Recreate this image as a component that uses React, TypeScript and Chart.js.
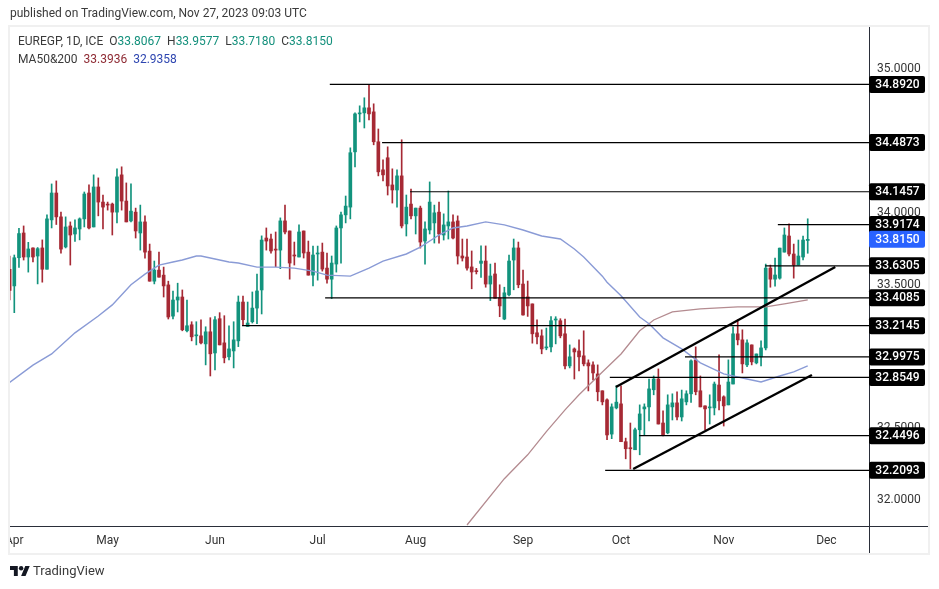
import React, { useEffect, useRef } from "react";
import { Chart, registerables } from "chart.js";

Chart.register(...registerables);

const FONT = 'Roboto, sans-serif';
const UP = "#12937d";
const DOWN = "#a62934";

// first candle sits one session before Apr 3
const firstIndex = -1;

const opens = [33.607,33.491,33.687,33.859,33.692,33.755,33.699,33.755,33.607,33.950,34.137,33.971,33.762,33.908,33.852,33.887,33.957,34.137,33.901,34.179,34.074,34.060,34.060,34.004,34.263,34.081,33.943,34.004,33.859,33.936,33.733,33.524,33.601,33.566,33.498,33.281,33.393,33.414,33.179,33.221,33.144,33.144,33.088,33.172,33.025,33.263,33.095,32.998,33.039,33.109,33.379,33.209,33.242,33.337,33.463,33.824,33.817,33.747,33.740,33.943,33.873,33.706,33.692,33.873,33.726,33.566,33.713,33.726,33.615,33.538,33.643,33.894,33.985,34.039,34.423,34.687,34.694,34.729,34.701,34.493,34.298,34.382,34.193,34.158,34.256,33.922,34.060,33.978,34.032,33.803,33.880,33.929,34.004,33.845,33.908,33.936,33.943,33.699,33.692,33.623,33.595,33.648,33.664,33.504,33.574,33.408,33.261,33.429,33.671,33.755,33.504,33.415,33.366,33.165,33.144,33.060,33.067,33.254,33.249,33.158,32.935,33.053,33.039,33.005,32.956,32.942,32.879,32.762,32.699,32.461,32.643,32.671,32.408,32.366,32.352,32.491,32.636,32.650,32.769,32.844,32.538,32.470,32.650,32.678,32.580,32.685,32.741,32.977,32.762,32.657,32.643,32.643,32.802,32.720,32.664,32.809,33.158,33.116,32.942,33.081,32.956,32.998,33.060,33.615,33.538,33.545,33.726,33.838,33.713,33.636,33.692,33.8067];
const highs = [33.699,33.706,33.892,33.908,33.794,33.756,33.758,33.811,33.985,34.200,34.221,34.004,33.971,33.936,33.950,33.964,34.144,34.193,34.263,34.242,34.123,34.074,34.067,34.305,34.319,34.207,34.200,34.032,34.053,33.978,33.782,33.664,33.726,33.622,33.524,33.456,33.510,33.463,33.393,33.242,33.242,33.256,33.207,33.270,33.277,33.305,33.284,33.214,33.242,33.421,33.421,33.379,33.449,33.573,33.839,33.894,33.852,33.866,33.964,34.053,33.873,33.796,33.915,33.873,33.803,33.768,33.768,33.789,33.720,33.699,33.908,34.004,34.116,34.451,34.694,34.743,34.799,34.893,34.757,34.582,34.368,34.458,34.305,34.298,34.507,34.123,34.165,34.032,34.046,33.936,34.214,34.053,34.074,33.992,34.151,33.985,33.978,33.817,33.817,33.734,33.613,33.769,33.769,33.643,33.650,33.499,33.482,33.706,33.817,33.796,33.602,33.525,33.366,33.256,33.186,33.198,33.277,33.277,33.263,33.261,33.081,33.060,33.116,33.179,32.977,32.963,32.942,32.762,32.706,32.671,32.797,32.797,32.433,32.538,32.503,32.664,32.671,32.844,32.865,32.914,32.622,32.734,32.741,32.755,32.767,32.762,32.977,33.067,32.865,32.657,32.734,32.823,33.012,32.727,32.977,33.207,33.256,33.186,33.116,33.081,33.018,33.109,33.643,33.636,33.685,33.754,33.894,33.922,33.782,33.810,33.838,33.9577];
const lows = [33.393,33.305,33.619,33.671,33.587,33.657,33.505,33.517,33.607,33.894,33.918,33.719,33.755,33.636,33.801,33.811,33.901,33.887,33.901,33.978,33.887,34.018,33.845,33.929,34.018,33.936,33.936,33.824,33.740,33.684,33.524,33.505,33.552,33.414,33.261,33.261,33.310,33.179,33.172,33.109,33.081,33.088,32.942,32.865,32.907,33.081,32.956,32.977,32.921,33.069,33.221,33.209,33.233,33.228,33.296,33.740,33.718,33.625,33.611,33.852,33.538,33.636,33.692,33.685,33.566,33.491,33.531,33.594,33.510,33.403,33.587,33.650,33.929,33.957,34.319,34.631,34.589,34.645,34.472,34.256,34.221,34.123,34.067,34.039,33.894,33.838,33.957,33.852,33.754,33.643,33.852,33.789,33.789,33.810,33.817,33.817,33.643,33.664,33.601,33.471,33.574,33.550,33.482,33.389,33.405,33.277,33.256,33.422,33.464,33.478,33.288,33.279,33.093,33.088,33.019,33.047,33.032,33.088,33.130,32.914,32.921,32.844,32.900,32.935,32.761,32.838,32.692,32.664,32.422,32.429,32.636,32.408,32.289,32.219,32.352,32.317,32.454,32.552,32.734,32.531,32.449,32.463,32.559,32.559,32.552,32.664,32.681,32.734,32.650,32.491,32.531,32.594,32.629,32.517,32.664,32.809,33.081,32.886,32.930,32.942,32.949,32.935,33.046,33.482,33.490,33.538,33.726,33.699,33.545,33.636,33.671,33.7180];
const closes = [33.459,33.687,33.855,33.692,33.748,33.692,33.750,33.607,33.957,34.137,33.971,33.747,33.901,33.845,33.894,33.957,34.130,33.894,34.179,34.074,34.039,34.053,34.004,34.249,34.081,33.936,34.011,33.873,33.936,33.726,33.524,33.601,33.552,33.491,33.275,33.393,33.414,33.186,33.214,33.137,33.151,33.095,33.172,33.019,33.256,33.081,32.991,33.053,33.116,33.379,33.256,33.233,33.337,33.456,33.810,33.803,33.734,33.740,33.943,33.866,33.650,33.699,33.866,33.720,33.566,33.706,33.720,33.608,33.538,33.650,33.894,33.985,34.046,34.417,34.687,34.694,34.729,34.687,34.493,34.284,34.263,34.186,34.158,34.256,33.908,34.039,33.978,34.032,33.796,33.887,34.074,33.999,33.852,33.915,33.936,33.824,33.699,33.685,33.615,33.588,33.590,33.664,33.504,33.560,33.405,33.352,33.443,33.664,33.755,33.499,33.289,33.352,33.158,33.137,33.053,33.067,33.249,33.261,33.144,32.935,32.998,33.032,32.998,32.949,32.935,32.886,32.755,32.685,32.455,32.650,32.683,32.408,32.359,32.359,32.491,32.601,32.650,32.775,32.844,32.531,32.454,32.664,32.678,32.580,32.706,32.741,32.970,32.755,32.650,32.636,32.650,32.809,32.692,32.657,32.823,33.158,33.116,32.949,33.095,32.963,33.018,33.060,33.615,33.538,33.567,33.754,33.845,33.713,33.636,33.699,33.810,33.8150];

const ma200At = [-1,4,8,13,18,21,25,28,31,34,36,39,40,43,46,48,52,56,60,64,67,72,76,79,84,87,91,94,97,101,105,109,113,117,120,122,126,127,130,134,136,139,143,147,152,157,160,164,167,170];
const ma200Values = [32.820,32.940,33.018,33.165,33.282,33.359,33.499,33.573,33.636,33.657,33.671,33.699,33.699,33.678,33.657,33.650,33.622,33.622,33.615,33.594,33.566,33.559,33.615,33.664,33.713,33.761,33.845,33.894,33.908,33.936,33.915,33.880,33.838,33.817,33.748,33.692,33.559,33.517,33.422,33.275,33.228,33.130,33.053,32.956,32.879,32.844,32.823,32.865,32.893,32.9358];

const ma50At = [97,105,110,114,118,121,126,130,134,136,137,141,147,155,161,165,170];
const ma50Values = [31.829,32.151,32.317,32.478,32.629,32.734,32.893,33.018,33.179,33.228,33.254,33.310,33.331,33.345,33.345,33.366,33.3936];

const levelValues = [34.8920,34.4873,34.1457,33.9174,33.6305,33.4085,33.2145,32.9975,32.8549,32.4496,32.2093];
const levelStarts = [67.6,78.8,84.8,163.6,160.9,66.6,48.8,143.7,127.6,133.9,126.6];

const channelUpperAt = [128.9,175.9];
const channelUpperValues = [32.788,33.623];
const channelLowerAt = [132.6,170.9];
const channelLowerValues = [32.218,32.872];

const lastPrice = 33.815;
const priceTicks = [32,32.5,33,33.5,34,34.5,35];
const monthAt = [0,20,43,65,86,109,130,152,174];
const monthLabels = ["Apr","May","Jun","Jul","Aug","Sep","Oct","Nov","Dec"];

const xMin = -0.921;
const xMax = 183.13;
const yMin = 31.822;
const yMax = 35.291;

const framePlugin = {
  id: "frame",
  afterDraw(chart: any) {
    const { ctx, chartArea: a, scales } = chart;
    ctx.save();
    // clip the first month label at the pane's left edge
    ctx.fillStyle = "#fff";
    ctx.fillRect(0, a.bottom + 1, a.left, 26);
    // outer frame
    ctx.strokeStyle = "#f0f0f0";
    ctx.lineWidth = 2;
    ctx.strokeRect(a.left - 1, a.top - 1, 928 - a.left + 2, 553 - a.top + 2);
    // axis lines
    ctx.strokeStyle = "#2a2e39";
    ctx.lineWidth = 1;
    ctx.beginPath();
    ctx.moveTo(a.right + 0.5, a.top);
    ctx.lineTo(a.right + 0.5, 553);
    ctx.moveTo(a.left, a.bottom + 0.5);
    ctx.lineTo(928, a.bottom + 0.5);
    ctx.stroke();
    // price labels
    const y = scales.y;
    ctx.textAlign = "center";
    ctx.textBaseline = "middle";
    ctx.font = `500 12px ${FONT}`;
    const box = (value: number, fill: string) => {
      const py = y.getPixelForValue(value);
      ctx.fillStyle = fill;
      ctx.beginPath();
      ctx.roundRect(a.right, py - 8.5, 56, 17, 2);
      ctx.fill();
      ctx.fillStyle = "#fff";
      ctx.fillText(value.toFixed(4), a.right + 28.5, py + 0.5);
    };
    levelValues.forEach((v) => box(v, "#000000"));
    box(lastPrice, "#2962ff");
    ctx.restore();
  },
};

export default function App() {
  const ref = useRef<HTMLCanvasElement | null>(null);
  useEffect(() => {
    const candleX = (i: number) => i + firstIndex;
    const colors = closes.map((c, i) => (c >= opens[i] ? UP : DOWN));
    const line = (xs: number[], ys: number[], color: string, width: number, order: number) => ({
      type: "line" as const,
      data: xs.map((x, i) => ({ x, y: ys[i] })),
      borderColor: color,
      borderWidth: width,
      pointRadius: 0,
      tension: 0,
      order,
    });
    const chart = new Chart(ref.current as HTMLCanvasElement, {
      type: "bar",
      data: {
        datasets: [
          {
            data: highs.map((h, i) => ({ x: candleX(i), y: [lows[i], h] })),
            backgroundColor: colors,
            barThickness: 1,
            grouped: false,
            order: 5,
          },
          {
            data: opens.map((o, i) => ({ x: candleX(i), y: [Math.min(o, closes[i]), Math.max(o, closes[i])] })),
            backgroundColor: colors,
            barThickness: 3,
            minBarLength: 1,
            grouped: false,
            order: 4,
          },
          line(ma200At, ma200Values, "#8a9bd6", 1.4, 3),
          line(ma50At, ma50Values, "#b48b90", 1.3, 3),
          ...levelValues.map((v, i) => line([levelStarts[i], xMax], [v, v], "#000000", 1.2, 2)),
          line(channelUpperAt, channelUpperValues, "#000000", 2.4, 1),
          line(channelLowerAt, channelLowerValues, "#000000", 2.4, 1),
        ] as any,
      },
      options: {
        responsive: false,
        animation: false,
        devicePixelRatio: 1,
        layout: { padding: { left: 10, right: 11, top: 27, bottom: 36 } },
        plugins: { legend: { display: false }, tooltip: { enabled: false } },
        scales: {
          x: {
            type: "linear",
            min: xMin,
            max: xMax,
            offset: false,
            grid: { display: false },
            border: { display: false },
            afterFit: (s: any) => { s.height = 27; },
            afterBuildTicks: (s: any) => { s.ticks = monthAt.map((value) => ({ value })); },
            ticks: {
              autoSkip: false,
              maxRotation: 0,
              padding: 0,
              color: "#333333",
              font: { family: FONT, size: 12 },
              callback: (v: any) => monthLabels[monthAt.indexOf(Number(v))] ?? "",
            },
          },
          y: {
            type: "linear",
            position: "right",
            min: yMin,
            max: yMax,
            grid: { display: false },
            border: { display: false },
            afterFit: (s: any) => { s.width = 59; },
            afterBuildTicks: (s: any) => { s.ticks = priceTicks.map((value) => ({ value })); },
            ticks: {
              padding: 0,
              color: "#333333",
              font: { family: FONT, size: 12 },
              callback: (v: any) => Number(v).toFixed(4),
            },
          },
        },
      } as any,
      plugins: [framePlugin],
    });
    return () => chart.destroy();
  }, []);

  const text: React.CSSProperties = {
    position: "absolute",
    fontFamily: FONT,
    fontSize: 12,
    lineHeight: "16px",
    color: "#3a3a3a",
    whiteSpace: "nowrap",
  };
  const green = { color: "#14907c" };
  return (
    <div style={{ position: "fixed", left: 0, top: 0, width: 939, height: 589, background: "#fff", overflow: "hidden" }}>
      <canvas ref={ref} width={939} height={589} style={{ position: "absolute", left: 0, top: 0, display: "block" }} />
      <div style={{ ...text, left: 10, top: 5 }}>published on TradingView.com, Nov 27, 2023 09:03 UTC</div>
      <div style={{ ...text, left: 18, top: 33 }}>
        EUREGP, 1D, ICE&nbsp;&nbsp;O<span style={green}>33.8067</span>&nbsp;&nbsp;H<span style={green}>33.9577</span>&nbsp;&nbsp;L<span style={green}>33.7180</span>&nbsp;&nbsp;C<span style={green}>33.8150</span>
      </div>
      <div style={{ ...text, left: 18, top: 51 }}>
        MA50&amp;200&nbsp;&nbsp;<span style={{ color: "#8e2a33" }}>33.3936</span>&nbsp;&nbsp;<span style={{ color: "#2d45b0" }}>32.9358</span>
      </div>
      <svg width="20" height="10" viewBox="0 4 36 18" style={{ position: "absolute", left: 10, top: 566 }}>
        <path d="M14 22H7V11H0V4h14v18zM28 22h-8l7.5-18h8L28 22z" fill="#131722" />
        <circle cx="20" cy="8" r="4" fill="#131722" />
      </svg>
      <div style={{ ...text, left: 33, top: 563, fontSize: 13, color: "#3a3a3a" }}>TradingView</div>
    </div>
  );
}
